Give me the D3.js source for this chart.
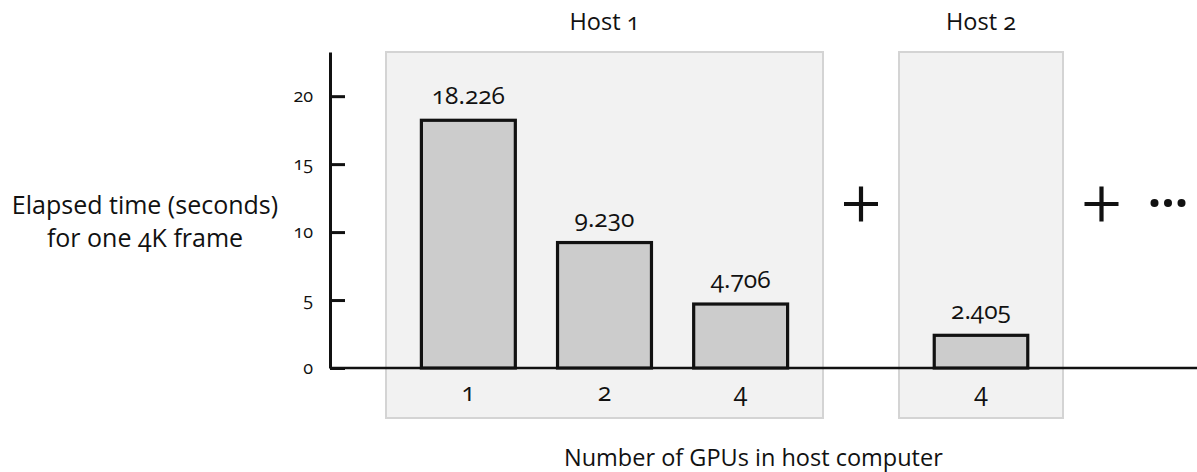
<!DOCTYPE html>
<html>
<head>
<meta charset="utf-8">
<script src="https://cdn.jsdelivr.net/npm/d3@7"></script>
<style>
  html, body { margin: 0; padding: 0; background: #ffffff; }
  svg text { font-family: "Open Sans", "Noto Sans", sans-serif; fill: #111; font-variant-numeric: oldstyle-nums; }
</style>
</head>
<body>
<svg id="chart" width="1197" height="472"></svg>
<script>
// ---- data ----
const hosts = ["Host 1", "Host 2"];
const gpuLabels = ["1", "2", "4", "4"];
const barHost = [0, 0, 0, 1];
const times = [18.226, 9.230, 4.706, 2.405];
const valueLabels = ["18.226", "9.230", "4.706", "2.405"];
const yTicks = [0, 5, 10, 15, 20];
const yLabel = ["Elapsed time (seconds)", "for one 4K frame"];
const xLabel = "Number of GPUs in host computer";

// ---- layout ----
const W = 1197, H = 472;
const axisX = 330;
const yTop = 52, yBottom = 368;
const panelBottom = 418;
const panels = [[386, 823], [899, 1063]];

const svg = d3.select("#chart");

const y = d3.scaleLinear().domain([0, 23.25]).range([yBottom, yTop]);

// one band scale per host panel
const xScales = hosts.map((h, hi) => {
  const keys = times.map((t, i) => i).filter(i => barHost[i] === hi);
  return d3.scaleBand().domain(keys).range(panels[hi]).paddingInner(0.31).paddingOuter(0.26);
});
const xs = i => xScales[barHost[i]](i);
const bw = i => xScales[barHost[i]].bandwidth();
const cx = i => xs(i) + bw(i) / 2;

// panels
svg.append("g").selectAll("rect").data(hosts).join("rect")
  .attr("x", (d, i) => panels[i][0])
  .attr("y", yTop)
  .attr("width", (d, i) => panels[i][1] - panels[i][0])
  .attr("height", panelBottom - yTop)
  .attr("fill", "#f2f2f2")
  .attr("stroke", "#d4d4d4")
  .attr("stroke-width", 2);

// host titles
svg.append("g").selectAll("text").data(hosts).join("text")
  .attr("x", (d, i) => (panels[i][0] + panels[i][1]) / 2)
  .attr("y", 30)
  .attr("text-anchor", "middle")
  .attr("font-size", 23.5)
  .text(d => d);

// baseline
svg.append("line")
  .attr("x1", axisX).attr("x2", W)
  .attr("y1", y(0)).attr("y2", y(0))
  .attr("stroke", "#111").attr("stroke-width", 2.5);

// bars
svg.append("g").selectAll("rect").data(times).join("rect")
  .attr("x", (d, i) => xs(i))
  .attr("y", d => y(d))
  .attr("width", (d, i) => bw(i))
  .attr("height", d => y(0) - y(d))
  .attr("fill", "#cccccc")
  .attr("stroke", "#111")
  .attr("stroke-width", 3.2);

// value labels
svg.append("g").selectAll("text").data(times).join("text")
  .attr("x", (d, i) => cx(i))
  .attr("y", d => y(d) - 16)
  .attr("text-anchor", "middle")
  .attr("font-size", 24.5)
  .text((d, i) => valueLabels[i]);

// x category labels
svg.append("g").selectAll("text").data(gpuLabels).join("text")
  .attr("x", (d, i) => cx(i))
  .attr("y", 401)
  .attr("text-anchor", "middle")
  .attr("font-size", 25)
  .text(d => d);

// y axis
const yAxis = d3.axisLeft(y).tickValues(yTicks).tickSizeInner(-15).tickSizeOuter(0).tickPadding(17);
const gy = svg.append("g").attr("transform", `translate(${axisX},0)`).call(yAxis);
gy.attr("font-family", null).attr("font-size", null);
gy.select(".domain").attr("stroke", "#111").attr("stroke-width", 3);
gy.selectAll(".tick line").attr("stroke", "#111").attr("stroke-width", 3);
gy.selectAll(".tick text")
  .attr("font-size", 18)
  .attr("dy", "0.3em")
  .attr("fill", "#111");

// y title
svg.append("text")
  .attr("x", 145).attr("y", 214)
  .attr("text-anchor", "middle")
  .attr("font-size", 25)
  .selectAll("tspan").data(yLabel).join("tspan")
  .attr("x", 145)
  .attr("dy", (d, i) => i === 0 ? 0 : 32.5)
  .text(d => d);

// x title
svg.append("text")
  .attr("x", 564).attr("y", 466)
  .attr("text-anchor", "start")
  .attr("font-size", 23.5)
  .text(xLabel);

// plus signs and ellipsis between hosts
const plusCenters = [(panels[0][1] + panels[1][0]) / 2, 1101.5];
const plusHalf = 17, midY = 204;
const gj = svg.append("g").attr("stroke", "#111").attr("stroke-width", 4.2);
gj.selectAll("path").data(plusCenters).join("path")
  .attr("d", c => `M${c - plusHalf},${midY}H${c + plusHalf}M${c},${midY - plusHalf - 0.5}V${midY + plusHalf + 0.5}`)
  .attr("fill", "none");
const dotCenters = [1154.5, 1168, 1181.5];
svg.append("g").selectAll("circle").data(dotCenters).join("circle")
  .attr("cx", d => d).attr("cy", midY - 1).attr("r", 4)
  .attr("fill", "#111");
</script>
</body>
</html>
